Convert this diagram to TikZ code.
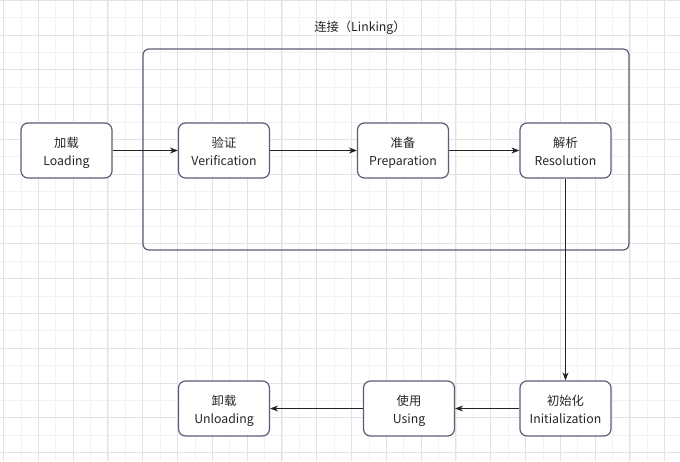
\documentclass[tikz,border=0pt]{standalone}
\usepackage{fontspec}
\setmainfont{Noto Sans CJK SC}
\usetikzlibrary{arrows.meta}
\definecolor{gridminor}{HTML}{F2F2F2}
\definecolor{gridmajor}{HTML}{E2E2E2}
\definecolor{boxline}{HTML}{5C5E78}
\definecolor{arrowc}{HTML}{222222}
\newcommand{\stagetxt}[2]{\raisebox{-2.5pt}[\height][\depth]{\begin{tabular}{@{}c@{}}#1\\[0.5pt]#2\end{tabular}}}
\begin{document}
\begin{tikzpicture}[x=1pt,y=-1pt,
  stagebox/.style={draw=boxline, line width=1.2pt, fill=white, rounded corners=7pt,
    minimum width=91pt, minimum height=55pt, align=center, inner sep=0pt,
    font=\fontsize{12.3}{17}\selectfont, text=black!85},
  flow/.style={draw=arrowc, line width=0.9pt, -{Stealth[length=8pt,width=6pt]}}]
\useasboundingbox (0,0) rectangle (680,461);
\fill[white] (0,0) rectangle (680,461);
% grid
\foreach \i in {0,...,40} {
  \pgfmathsetmacro{\gx}{3.5+17.4*\i}
  \draw[gridminor, line width=0.8pt] (\gx,0) -- (\gx,461);
}
\foreach \i in {-2,...,27} {
  \pgfmathsetmacro{\gy}{35+17.4*\i}
  \draw[gridminor, line width=0.8pt] (0,\gy) -- (680,\gy);
}
\foreach \i in {0,...,20} {
  \pgfmathsetmacro{\gx}{3.5+34.8*\i}
  \draw[gridmajor, line width=0.9pt] (\gx,0) -- (\gx,461);
}
\foreach \i in {-1,...,13} {
  \pgfmathsetmacro{\gy}{35+34.8*\i}
  \draw[gridmajor, line width=0.9pt] (0,\gy) -- (680,\gy);
}
% container
\node[draw=boxline, line width=1.2pt, rounded corners=6pt, minimum width=486pt,
  minimum height=201pt, inner sep=0pt] (link) at (386,149.5) {};
\node[font=\fontsize{12.3}{14}\selectfont, text=black!85] (title) at (360,28) {连接（Linking）};
% stages
\node[stagebox] (load) at (66.5,150.5) {\stagetxt{加载}{Loading}};
\node[stagebox] (ver) at (224,150.5) {\stagetxt{验证}{Verification}};
\node[stagebox] (prep) at (403,150.5) {\stagetxt{准备}{Preparation}};
\node[stagebox] (res) at (565.5,150.5) {\stagetxt{解析}{Resolution}};
\node[stagebox] (init) at (565.5,408.5) {\stagetxt{初始化}{Initialization}};
\node[stagebox] (use) at (409,408.5) {\stagetxt{使用}{Using}};
\node[stagebox] (unload) at (224,408.5) {\stagetxt{卸载}{Unloading}};
% connectors
\draw[flow] (load) -- (ver);
\draw[flow] (ver) -- (prep);
\draw[flow] (prep) -- (res);
\draw[flow] (res) -- (init);
\draw[flow] (init) -- (use);
\draw[flow] (use) -- (unload);
\end{tikzpicture}
\end{document}
